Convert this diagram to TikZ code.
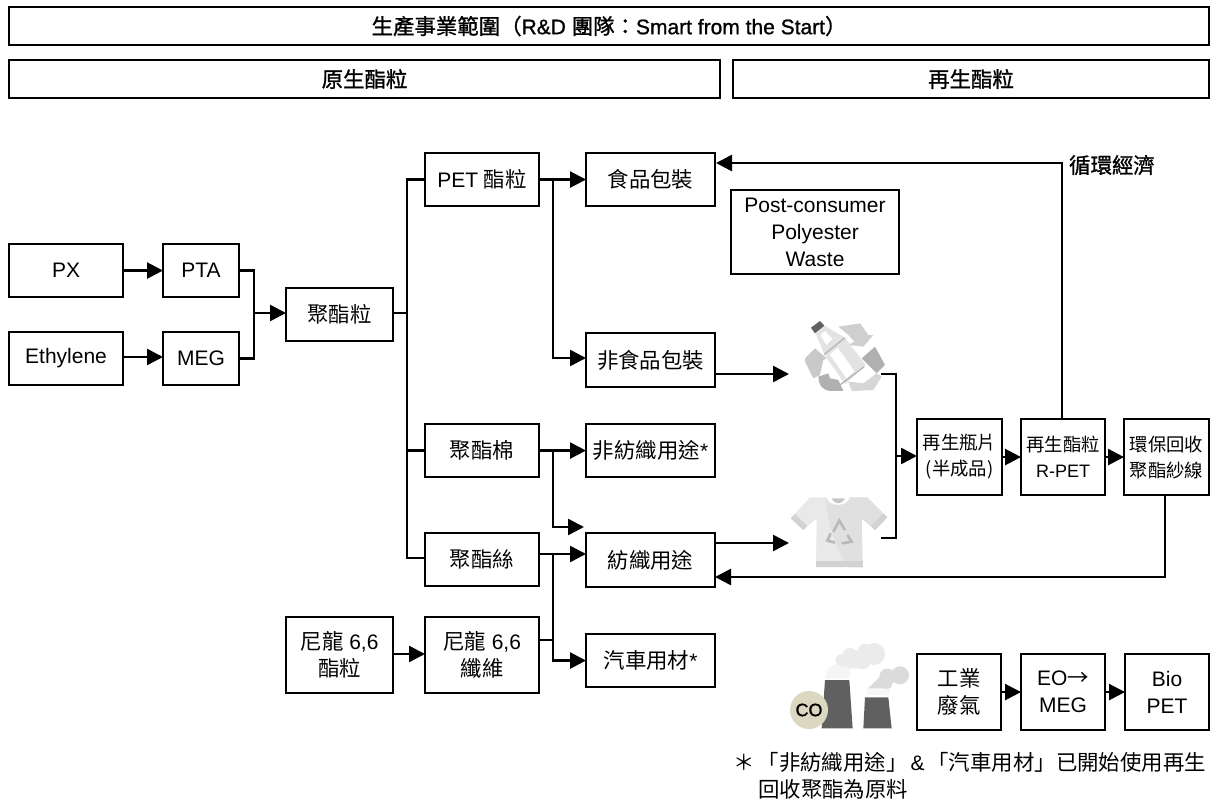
\documentclass[tikz,border=0pt]{standalone}
\usepackage{fontspec}
\setmainfont{Liberation Sans}
\newfontfamily\cjk[Scale=1.02]{Noto Sans CJK TC}
\newfontfamily\cjkh[Scale=1.02,FakeBold=1.2]{Noto Sans CJK TC}
\newfontfamily\lath[FakeBold=1.0]{Liberation Sans}
\usetikzlibrary{arrows.meta,calc}
\definecolor{cotan}{HTML}{DCD7C0}
\tikzset{
 x=1pt,y=-1pt,
 conn/.style={line width=2.5pt,black},
 arr/.style={conn,-{Triangle[length=16pt,width=16pt]},shorten >=-1pt},
 tag/.style={font=\fontsize{21}{27}\selectfont,align=center,inner sep=0pt},
 smalltag/.style={font=\fontsize{18}{26}\selectfont},
 head/.style={font=\fontsize{21}{27}\selectfont,align=center,inner sep=0pt},
 thin box/.style={draw=black,line width=2.1pt,fill=white,inner sep=0pt,align=center},
}
\begin{document}
\begin{tikzpicture}
\useasboundingbox (0,0) rectangle (1216,806);
\node[thin box,head,minimum width=1200pt,minimum height=38pt,anchor=north west] (top) at (8,6) {\raisebox{-2pt}{\lath{\cjkh 生產事業範圍}{\cjkh （}R\&D {\cjkh 團隊：}Smart from the Start{\cjkh ）}}};
\node[thin box,head,minimum width=711pt,minimum height=38pt,anchor=north west] (virgin) at (8,59) {\raisebox{-4pt}{\cjkh 原生酯粒}};
\node[thin box,head,minimum width=476pt,minimum height=38pt,anchor=north west] (recyc) at (732,59) {\raisebox{-4pt}{\cjkh 再生酯粒}};

\newcommand{\bb}[6]{\node[thin box,tag,minimum width=#4pt-#2pt,minimum height=#5pt-#3pt,anchor=north west] (#1) at (#2,#3) {#6};}
\newcommand{\bs}[6]{\node[thin box,tag,smalltag,minimum width=#4pt-#2pt,minimum height=#5pt-#3pt,anchor=north west] (#1) at (#2,#3) {#6};}
\bb{px}{8}{243}{122}{296}{PX}
\bb{pta}{162}{243}{238}{296}{PTA}
\bb{eth}{8}{331}{122}{384}{Ethylene}
\bb{meg}{162}{331}{238}{384}{MEG}
\bb{chip}{285}{287}{392}{340}{\cjk 聚酯粒}
\bb{pet}{424}{152}{538}{205}{PET {\cjk 酯粒}}
\bb{food}{585}{152}{714}{205}{\cjk 食品包裝}
\bb{post}{730}{189}{898}{273}{Post-consumer\\Polyester\\Waste}
\bb{nonfood}{585}{332}{714}{386}{\cjk 非食品包裝}
\bb{staple}{424}{423}{538}{476}{\cjk 聚酯棉}
\bb{nontex}{585}{423}{714}{476}{{\cjk 非紡織用途}*}
\bb{fil}{424}{532}{538}{585}{\cjk 聚酯絲}
\bb{tex}{585}{532}{714}{586}{\cjk 紡織用途}
\bb{nychip}{285}{616}{392}{692}{{\cjk 尼龍} 6,6\\{\cjk 酯粒}}
\bb{nyfib}{424}{616}{538}{692}{{\cjk 尼龍} 6,6\\{\cjk 纖維}}
\bb{auto}{585}{633}{714}{686}{{\cjk 汽車用材}*}
\bs{flake}{916}{418}{1001}{494}{{\cjk 再生瓶片}\\{\cjk (半成品)}}
\bs{rpet}{1020}{418}{1104}{494}{{\cjk 再生酯粒}\\R-PET}
\bs{yarn}{1123}{418}{1208}{494}{{\cjk 環保回收}\\{\cjk 聚酯紗線}}
\bb{gas}{916}{653}{1000}{729}{{\cjk 工業}\\{\cjk 廢氣}}
\bb{eo}{1020}{653}{1104}{729}{EO{\cjk →}\\MEG}
\bb{bio}{1124}{653}{1208}{729}{Bio\\PET}

\node[head,anchor=center] (loop) at (1112,165) {\cjkh 循環經濟};
\node[font=\fontsize{21}{27}\selectfont,anchor=west,inner sep=0pt] (fn1) at (733,762) {{\cjk ＊\hspace{3pt}「非紡織用途」}\hspace{3pt}\&{\hspace{3pt}\cjk 「汽車用材」已開始使用再生}};
\node[font=\fontsize{21}{27}\selectfont,anchor=west,inner sep=0pt] (fn2) at (758,789) {\cjk 回收聚酯為原料};

\coordinate (bottleIn) at (788,374);
\coordinate (bottleOut) at (881,374);
\coordinate (shirtIn) at (788,543);
\coordinate (shirtOut) at (881,538);
\coordinate (free) at (583,527);
% bottle icon
\begin{scope}[shift={(795,315)},x=0.3333pt,y=-0.3333pt]
\fill[gray!38] (130,35) -- (195,25) -- (220,60) -- (235,60) -- (205,95) -- (160,90) -- (178,80) -- (160,60) -- cycle;
\fill[gray!62] (240,95) -- (270,150) -- (245,175) -- (200,130) -- cycle;
\fill[gray!32] (245,175) -- (260,185) -- (235,225) -- (170,228) -- (160,200) -- (205,205) -- cycle;
\fill[gray!62] (70,185) .. controls (72,215) and (85,225) .. (105,228) -- (145,228) -- (130,195) -- (105,190) -- (100,175) -- cycle;
\fill[gray!42] (30,130) -- (60,100) -- (95,130) -- (85,135) -- (75,180) -- (55,190) -- (30,140) -- cycle;
\fill[gray!22] (62,55) -- (88,32) -- (150,68) -- (88,118) -- cycle;
\fill[gray!22] (88,118) -- (150,68) -- (212,150) -- (150,208) -- cycle;
\fill[white] (104,118) -- (128,98) -- (178,168) -- (155,190) -- cycle;
\fill[white] (76,60) -- (90,48) -- (112,72) -- (94,90) -- cycle;
\draw[gray!60,line width=1.2pt] (88,118) -- (150,68);
\draw[gray!60,line width=1.2pt] (132,212) -- (208,155);
\fill[gray!75!black] (48,38) -- (75,18) -- (88,32) -- (60,55) -- cycle;
\end{scope}
% shirt icon
\begin{scope}[shift={(770,480)},x=0.3333pt,y=-0.3333pt]
\fill[gray!17] (170,52) -- (120,52) -- (62,115) -- (100,150) -- (140,115) -- (138,262) -- (278,262) -- (275,115) -- (315,150) -- (352,112) -- (292,52) -- (240,52) .. controls (232,82) and (178,82) .. cycle;
\fill[gray!24] (240,52) -- (292,52) -- (352,112) -- (315,150) -- (275,115) -- (278,262) -- (240,262) .. controls (190,210) and (180,130) .. (165,58) .. controls (180,82) and (232,82) .. cycle;
\fill[gray!35] (138,243) rectangle (278,262);
\fill[gray!35] (62,115) -- (75,102) -- (112,138) -- (100,150) -- cycle;
\fill[gray!35] (352,112) -- (340,100) -- (303,138) -- (315,150) -- cycle;
\fill[gray!45] (185,55) .. controls (195,75) and (215,75) .. (225,55) -- cycle;
\draw[gray!55,line width=2.6pt] (190,155) -- (208,122) -- (225,150);
\draw[gray!55,line width=2.6pt] (182,160) -- (172,182) -- (195,188);
\draw[gray!55,line width=2.6pt] (215,190) -- (245,185) -- (232,165);
\end{scope}
% factory icon
\begin{scope}[shift={(800,640)},x=0.3333pt,y=-0.3333pt]
\fill[gray!8] (75,115) -- (85,85) -- (120,65) -- (150,85) -- (150,115) -- cycle;
\fill[gray!16] (115,70) -- (170,30) -- (240,40) -- (200,85) -- (150,85) -- cycle;
\fill[gray!16] (125,60) circle[radius=6pt];
\fill[gray!16] (150,48) circle[radius=8pt];
\fill[gray!16] (185,58) circle[radius=10pt];
\fill[gray!16] (222,42) circle[radius=11pt];
\fill[gray!16] (195,32) circle[radius=7pt];
\fill[gray!6] (198,165) -- (205,140) -- (240,125) -- (270,150) -- (265,165) -- cycle;
\fill[gray!28] (205,145) -- (250,100) -- (290,120) -- (260,145) -- cycle;
\fill[gray!28] (262,110) circle[radius=8pt];
\fill[gray!28] (300,106) circle[radius=9pt];
\fill[gray!28] (262,132) circle[radius=5pt];
\fill[gray!75!black] (75,120) -- (148,120) -- (158,265) -- (65,265) -- cycle;
\fill[gray!75!black] (195,172) -- (265,172) -- (275,265) -- (190,265) -- cycle;
\end{scope}
\fill[cotan] (809,710) circle[radius=19pt];
\node[font=\fontsize{18}{20}\selectfont,inner sep=0pt] (co) at (809,710) {\lath CO};

% connectors
\draw[arr] (px) -- (pta);
\coordinate (e1) at (122,357);
\draw[arr] (e1) -- (meg.west |- e1);
\coordinate (mergeIn) at (254,313);
\draw[conn] (pta.east) -| (mergeIn) |- (meg.east);
\draw[arr] (mergeIn) -- (chip.west |- mergeIn);
\coordinate (trunk) at (407,313);
\draw[conn] (chip.east |- trunk) -- (trunk);
\coordinate (filIn) at (424,558);
\draw[conn] (pet.west) -| (trunk) |- (filIn);
\draw[conn] (staple.west) -- (staple.west -| trunk);
\draw[arr] (pet) -- (food);
\coordinate (b1) at (553,179);
\draw[arr] (b1) |- (nonfood.west |- 0,358);
\draw[arr] (staple) -- (nontex);
\coordinate (b2) at (553,449);
\draw[arr] (b2) |- (free);
\coordinate (f1) at (538,554);
\draw[arr] (f1) -- (tex.west |- f1);
\coordinate (b3) at (553,554);
\draw[arr] (b3) |- (auto.west);
\coordinate (ny1) at (553,640);
\draw[conn] (nyfib.east |- ny1) -- (ny1);
\coordinate (nyc) at (392,654);
\draw[arr] (nyc) -- (nyfib.west |- nyc);
\coordinate (a1) at (714,374);
\coordinate (a2) at (714,543);
\draw[arr] (a1) -- (bottleIn);
\draw[arr] (a2) -- (shirtIn);
\coordinate (c) at (896,456);
\draw[conn] (bottleOut) -| (c) |- (shirtOut);
\draw[arr] (c) -- (flake.west |- c);
\draw[arr] (flake) -- (rpet);
\draw[arr] (rpet) -- (yarn);
\coordinate (l1) at (1062,163);
\coordinate (l3) at (717,163);
\draw[arr] (rpet.north -| l1) -- (l1) -- (l3);
\coordinate (l2) at (1165,577);
\coordinate (l4) at (716,577);
\draw[arr] (yarn.south -| l2) -- (l2) -- (l4);
\draw[arr] (gas) -- (eo);
\draw[arr] (eo) -- (bio);
\end{tikzpicture}
\end{document}
